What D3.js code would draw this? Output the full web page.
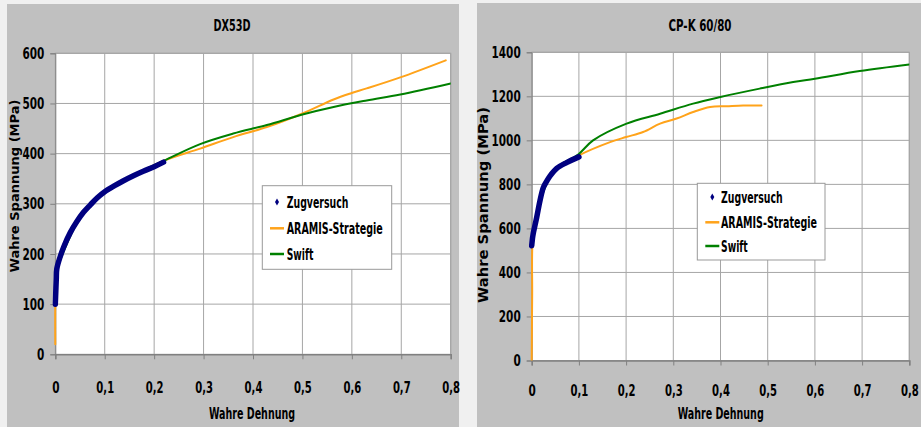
<!DOCTYPE html>
<html>
<head>
<meta charset="utf-8">
<script src="https://cdn.jsdelivr.net/npm/d3@7"></script>
<style>
body { margin: 0; background: #f0f0f0; }
svg { display: block; }
.narrow { font-family: "Liberation Sans Narrow", "Arial Narrow", "DejaVu Sans Condensed", sans-serif; }
</style>
</head>
<body>
<div id="chart"></div>
<script>
//Series names (legend)
const SERIES = ["Zugversuch", "ARAMIS-Strategie", "Swift"];
const COLORS = ["#000080", "#ffa31a", "#008000"];

//Tick values
const X_TICKS = [0, 0.1, 0.2, 0.3, 0.4, 0.5, 0.6, 0.7, 0.8];
const Y_TICKS_DX = [0, 100, 200, 300, 400, 500, 600];
const Y_TICKS_CP = [0, 200, 400, 600, 800, 1000, 1200, 1400];

//DX53D: [wahre Dehnung, wahre Spannung MPa]
const dxZug = [[0, 100], [0.001, 125], [0.002, 150], [0.003, 170], [0.01, 195], [0.017, 214],
	[0.03, 242], [0.044, 265], [0.057, 283], [0.071, 298], [0.085, 312], [0.1, 324],
	[0.12, 336], [0.138, 346], [0.158, 356], [0.178, 365], [0.2, 374], [0.219, 383]];
const dxAramis = [[0, 20], [0, 100], [0.002, 165], [0.05, 272], [0.1, 324], [0.15, 352],
	[0.22, 386], [0.293, 410], [0.36, 433], [0.428, 453], [0.5, 480], [0.563, 508],
	[0.597, 520], [0.63, 530], [0.698, 552], [0.79, 586]];
const dxSwift = [[0.003, 170], [0.05, 272], [0.1, 325], [0.15, 353], [0.22, 386], [0.293, 419],
	[0.36, 440], [0.428, 457], [0.5, 478], [0.563, 493], [0.63, 506], [0.698, 518], [0.8, 540]];

//CP-K 60/80
const cpZug = [[0, 521], [0.002, 560], [0.003, 574], [0.0106, 650], [0.0176, 726], [0.0247, 786],
	[0.032, 815], [0.039, 839], [0.053, 873], [0.074, 899], [0.1, 925]];
const cpAramis = [[0, 0], [0.001, 300], [0.002, 543], [0.01, 650], [0.025, 786], [0.05, 870],
	[0.1, 932], [0.166, 992], [0.2, 1015], [0.236, 1038], [0.272, 1076], [0.307, 1099],
	[0.342, 1129], [0.378, 1152], [0.413, 1155], [0.448, 1158], [0.487, 1158]];
const cpSwift = [[0.003, 574], [0.02, 740], [0.05, 870], [0.0985, 936], [0.13, 1000], [0.201, 1076],
	[0.272, 1121], [0.342, 1167], [0.4, 1197], [0.483, 1235], [0.554, 1265], [0.6, 1280],
	[0.695, 1315], [0.8, 1345]];

//////////////////////////////////////////////////

const svg = d3.select("#chart").append("svg")
	.attr("width", 921)
	.attr("height", 427);

svg.append("rect").attr("width", 921).attr("height", 427).attr("fill", "#f0f0f0");

//format 0.1 -> "0,1"
function commaFormat(d) {
	return d === 0 ? "0" : d3.format(".1f")(d).replace(".", ",");
}

//narrow width of a tick label (digits ~7.3px, comma ~3px)
function labelWidth(s) {
	var w = 0;
	for (var i = 0; i < s.length; i++) w += (s[i] === "," ? 3.2 : 7.3);
	return w;
}

function drawChart(cfg, series) {
	var g = svg.append("g");

	//grey panel
	g.append("rect")
	 .attr("x", cfg.panel[0]).attr("y", cfg.panel[1])
	 .attr("width", cfg.panel[2]).attr("height", cfg.panel[3])
	 .attr("fill", "#c0c0c0");

	var x = d3.scaleLinear().domain([0, 0.8]).range([cfg.plot[0], cfg.plot[2]]);
	var y = d3.scaleLinear().domain([0, cfg.yMax]).range([cfg.plot[3], cfg.plot[1]]);

	//plot area
	g.append("rect")
	 .attr("x", x(0)).attr("y", y(cfg.yMax))
	 .attr("width", x(0.8) - x(0)).attr("height", y(0) - y(cfg.yMax))
	 .attr("fill", "#ffffff")
	 .attr("stroke", "#a0a0a0");

	//grid
	g.append("g").selectAll("line").data(X_TICKS.slice(1)).join("line")
	 .attr("x1", d => x(d)).attr("x2", d => x(d))
	 .attr("y1", y(0)).attr("y2", y(cfg.yMax))
	 .attr("stroke", "#a6a6a6");
	g.append("g").selectAll("line").data(cfg.yTicks.slice(1)).join("line")
	 .attr("x1", x(0)).attr("x2", x(0.8))
	 .attr("y1", d => y(d)).attr("y2", d => y(d))
	 .attr("stroke", "#a6a6a6");

	//axes
	var yAxis = g.append("g")
	 .attr("transform", "translate(" + x(0) + ",0)")
	 .call(d3.axisLeft(y).tickValues(cfg.yTicks).tickSize(5).tickPadding(6).tickFormat(d3.format("d")));
	var xAxis = g.append("g")
	 .attr("transform", "translate(0," + y(0) + ")")
	 .call(d3.axisBottom(x).tickValues(X_TICKS).tickSize(5).tickFormat(commaFormat));
	xAxis.selectAll("text").attr("y", cfg.xLabelOffset).attr("dy", "0.35em");

	[xAxis, yAxis].forEach(function(a) {
		a.select(".domain").attr("stroke", "#808080");
		a.selectAll(".tick line").attr("stroke", "#808080");
		a.selectAll("text")
		 .attr("class", "narrow")
		 .attr("font-size", 16)
		 .attr("font-weight", "bold")
		 .attr("fill", "#000")
		 .attr("textLength", function() { return labelWidth(this.textContent); })
		 .attr("lengthAdjust", "spacingAndGlyphs");
	});
	xAxis.select(".domain").attr("stroke-width", 1.5);

	//series lines (orange, green, then blue on top)
	var clipId = "clip" + cfg.id;
	g.append("clipPath").attr("id", clipId).append("rect")
	 .attr("x", x(0) - 3).attr("y", y(cfg.yMax))
	 .attr("width", x(0.8) - x(0) + 3).attr("height", y(0) - y(cfg.yMax));

	var line = d3.line()
		.x(d => x(d[0]))
		.y(d => y(d[1]))
		.curve(d3.curveCatmullRom.alpha(0.5));

	var lines = g.append("g").attr("clip-path", "url(#" + clipId + ")");
	[1, 2, 0].forEach(function(i) {
		lines.append("path")
		 .attr("d", line(series[i]))
		 .attr("fill", "none")
		 .attr("stroke", COLORS[i])
		 .attr("stroke-width", i === 0 ? 5.5 : 2)
		 .attr("stroke-linecap", "round")
		 .attr("stroke-linejoin", "round");
	});

	//title
	g.append("text")
	 .attr("class", "narrow")
	 .attr("x", cfg.titlePos[0]).attr("y", cfg.titlePos[1])
	 .attr("text-anchor", "middle").attr("dy", "0.35em")
	 .attr("font-size", 16)
	 .attr("font-weight", "bold")
	 .attr("textLength", cfg.titleWidth).attr("lengthAdjust", "spacingAndGlyphs")
	 .text(cfg.title);

	//axis titles
	g.append("text")
	 .attr("class", "narrow")
	 .attr("x", cfg.xTitlePos[0]).attr("y", cfg.xTitlePos[1])
	 .attr("text-anchor", "middle").attr("dy", "0.35em")
	 .attr("font-size", 16)
	 .attr("font-weight", "bold")
	 .attr("textLength", 86).attr("lengthAdjust", "spacingAndGlyphs")
	 .text("Wahre Dehnung");

	g.append("text")
	 .attr("transform", "translate(" + cfg.yTitlePos[0] + "," + cfg.yTitlePos[1] + ") rotate(-90)")
	 .attr("text-anchor", "middle").attr("dy", "0.35em")
	 .attr("font-family", "'DejaVu Sans', Verdana, sans-serif")
	 .attr("font-weight", "bold")
	 .attr("font-size", cfg.yTitleSize)
	 .attr("textLength", cfg.yTitleWidth).attr("lengthAdjust", "spacingAndGlyphs")
	 .text("Wahre Spannung (MPa)");

	//legend
	var L = cfg.legend;
	var leg = g.append("g");
	leg.append("rect")
	 .attr("x", L.box[0]).attr("y", L.box[1])
	 .attr("width", L.box[2] - L.box[0]).attr("height", L.box[3] - L.box[1])
	 .attr("fill", "#ffffff").attr("stroke", "#999999");

	var textWidths = [61.7, 96, 26.7];
	SERIES.forEach(function(name, i) {
		var cy = L.rows[i];
		if (i === 0) {
			leg.append("path")
			 .attr("d", d3.symbol(d3.symbolDiamond, 14)())
			 .attr("transform", "translate(" + L.marker + "," + cy + ")")
			 .attr("fill", COLORS[0]);
		} else {
			leg.append("line")
			 .attr("x1", L.marker - 7).attr("x2", L.marker + 7)
			 .attr("y1", cy).attr("y2", cy)
			 .attr("stroke", COLORS[i]).attr("stroke-width", 2.5);
		}
		leg.append("text")
		 .attr("class", "narrow")
		 .attr("x", L.textX).attr("y", cy).attr("dy", "0.35em")
		 .attr("font-size", 16)
		 .attr("font-weight", "bold")
		 .attr("textLength", textWidths[i]).attr("lengthAdjust", "spacingAndGlyphs")
		 .text(name);
	});
}

//////////////////////////////////////////////////

drawChart({
	id: "dx",
	title: "DX53D",
	titlePos: [232, 25],
	titleWidth: 37,
	panel: [7, 4, 452, 440],
	plot: [55.3, 53.3, 450.7, 354.3],
	yMax: 600,
	yTicks: Y_TICKS_DX,
	xLabelOffset: 33,
	xTitlePos: [252, 413],
	yTitlePos: [14, 186],
	yTitleSize: 13,
	yTitleWidth: 173,
	legend: {box: [262.3, 185.7, 391.7, 269.3], rows: [202, 228.3, 254], marker: 277, textX: 286.7}
}, [dxZug, dxAramis, dxSwift]);

drawChart({
	id: "cp",
	title: "CP-K 60/80",
	titlePos: [700, 25],
	titleWidth: 63,
	panel: [477, 3, 450, 440],
	plot: [531.7, 52.3, 909.3, 360.5],
	yMax: 1400,
	yTicks: Y_TICKS_CP,
	xLabelOffset: 29.5,
	xTitlePos: [720.7, 413.3],
	yTitlePos: [483, 205],
	yTitleSize: 14.6,
	yTitleWidth: 196,
	legend: {box: [697.3, 183.3, 825, 260], rows: [197, 222.3, 246], marker: 712.3, textX: 721}
}, [cpZug, cpAramis, cpSwift]);
</script>
</body>
</html>
